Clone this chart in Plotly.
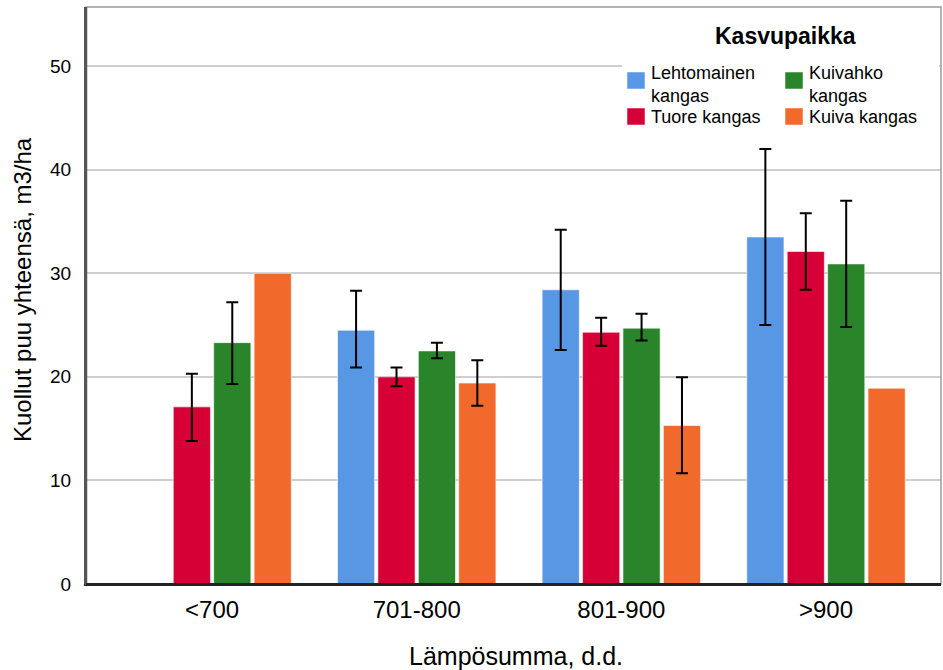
import plotly.graph_objects as go

categories = ["<700", "701-800", "801-900", ">900"]
series_names = ["Lehtomainen kangas", "Tuore kangas", "Kuivahko kangas", "Kuiva kangas"]
legend_labels = ["Lehtomainen<br>kangas", "Tuore kangas", "Kuivahko<br>kangas", "Kuiva kangas"]
colors = ["#5897E4", "#D60036", "#2A8429", "#F2692C"]

lehto = [None, 24.5, 28.4, 33.5]
tuore = [17.1, 20.0, 24.3, 32.1]
kuivahko = [23.3, 22.5, 24.7, 30.9]
kuiva = [30.0, 19.4, 15.3, 18.9]

lehto_hi = [None, 28.3, 34.2, 42.0]
lehto_lo = [None, 20.9, 22.6, 25.0]
tuore_hi = [20.3, 20.9, 25.7, 35.8]
tuore_lo = [13.8, 19.1, 23.0, 28.4]
kuivahko_hi = [27.2, 23.3, 26.1, 37.0]
kuivahko_lo = [19.3, 21.8, 23.5, 24.8]
kuiva_hi = [None, 21.6, 19.95, None]
kuiva_lo = [None, 17.2, 10.7, None]

y_ticks = [0, 10, 20, 30, 40, 50]

values = [lehto, tuore, kuivahko, kuiva]
his = [lehto_hi, tuore_hi, kuivahko_hi, kuiva_hi]
los = [lehto_lo, tuore_lo, kuivahko_lo, kuiva_lo]

FONT = "Liberation Sans, Arial, sans-serif"

# plot area in pixels
L, R, T, B = 86, 941, 7, 584
W, H = R - L, B - T


def px(x):
    return (x - L) / W


def py(y):
    return (B - y) / H


fig = go.Figure()
for name, vals, hi, lo, col in zip(series_names, values, his, los, colors):
    plus = [(h - v) if (h is not None and v is not None) else "NaN" for v, h in zip(vals, hi)]
    minus = [(v - l) if (l is not None and v is not None) else "NaN" for v, l in zip(vals, lo)]
    fig.add_trace(go.Bar(
        x=categories, y=vals, name=name, showlegend=False,
        marker=dict(color=col, line=dict(color="rgba(255,255,255,0.6)", width=1)),
        error_y=dict(type="data", symmetric=False, array=plus, arrayminus=minus,
                     color="black", thickness=2, width=6),
    ))

fig.update_layout(
    width=943, height=670,
    margin=dict(l=L, r=943 - R, t=T, b=670 - B),
    paper_bgcolor="white", plot_bgcolor="white",
    barmode="group", bargap=0.21, bargroupgap=0.08,
    font=dict(family=FONT, color="black"),
    showlegend=False,
    xaxis=dict(
        type="category", range=[-0.616, 3.562],
        showgrid=False, showline=True, linecolor="#222222", linewidth=2,
        ticks="", tickfont=dict(size=24, family=FONT), ticklabelstandoff=3,
    ),
    yaxis=dict(
        range=[0, 55.7], tickvals=y_ticks,
        showgrid=True, gridcolor="#CFCFCF", gridwidth=1.5,
        showline=True, linecolor="#555555", linewidth=2,
        zeroline=False, ticks="", ticklabelstandoff=9,
        tickfont=dict(size=19, family=FONT), tickprefix="<b>", ticksuffix="</b>",
    ),
)

# axis titles
fig.add_annotation(text="Kuollut puu yhteensä, m3/ha", xref="paper", yref="paper",
                   x=px(22), y=py(290), xanchor="center", yanchor="middle",
                   textangle=-90, showarrow=False, font=dict(size=24, family=FONT, color="black"))
fig.add_annotation(text="Lämpösumma, d.d.", xref="paper", yref="paper",
                   x=px(516), y=py(656), xanchor="center", yanchor="middle",
                   showarrow=False, font=dict(size=25, family=FONT, color="black"))

# legend (manual, two columns)
fig.add_shape(type="rect", xref="paper", yref="paper", x0=px(622), x1=px(939), y0=py(140), y1=py(9),
              fillcolor="white", line=dict(width=0), layer="above")
fig.add_annotation(text="<b>Kasvupaikka</b>", xref="paper", yref="paper",
                   x=px(785), y=py(36), xanchor="center", yanchor="middle",
                   showarrow=False, font=dict(size=23, family=FONT, color="black"))

col_x = [627, 627, 785, 785]
row_y = [72, 108, 72, 108]
for label, col, sx, sy in zip(legend_labels, colors, col_x, row_y):
    fig.add_shape(type="rect", xref="paper", yref="paper",
                  x0=px(sx), x1=px(sx + 18), y0=py(sy + 17), y1=py(sy),
                  fillcolor=col, line=dict(color="rgba(255,255,255,0.5)", width=1), layer="above")
    two_lines = "<br>" in label
    fig.add_annotation(text=label, xref="paper", yref="paper",
                       x=px(sx + 22), y=py(sy + (13 if two_lines else 9)),
                       xanchor="left", yanchor="middle", align="left",
                       showarrow=False, font=dict(size=18, family=FONT, color="black"))

# frame
fig.add_shape(type="rect", xref="paper", yref="paper", x0=0, y0=0, x1=1, y1=1,
              line=dict(color="#9A9A9A", width=1.5), layer="above")
fig.add_shape(type="line", xref="paper", yref="paper", x0=0, y0=0, x1=0, y1=1,
              line=dict(color="#555555", width=2.5), layer="above")
fig.add_shape(type="line", xref="paper", yref="paper", x0=0, y0=0, x1=1, y1=0,
              line=dict(color="#222222", width=2), layer="above")

fig.write_html("out.html")
